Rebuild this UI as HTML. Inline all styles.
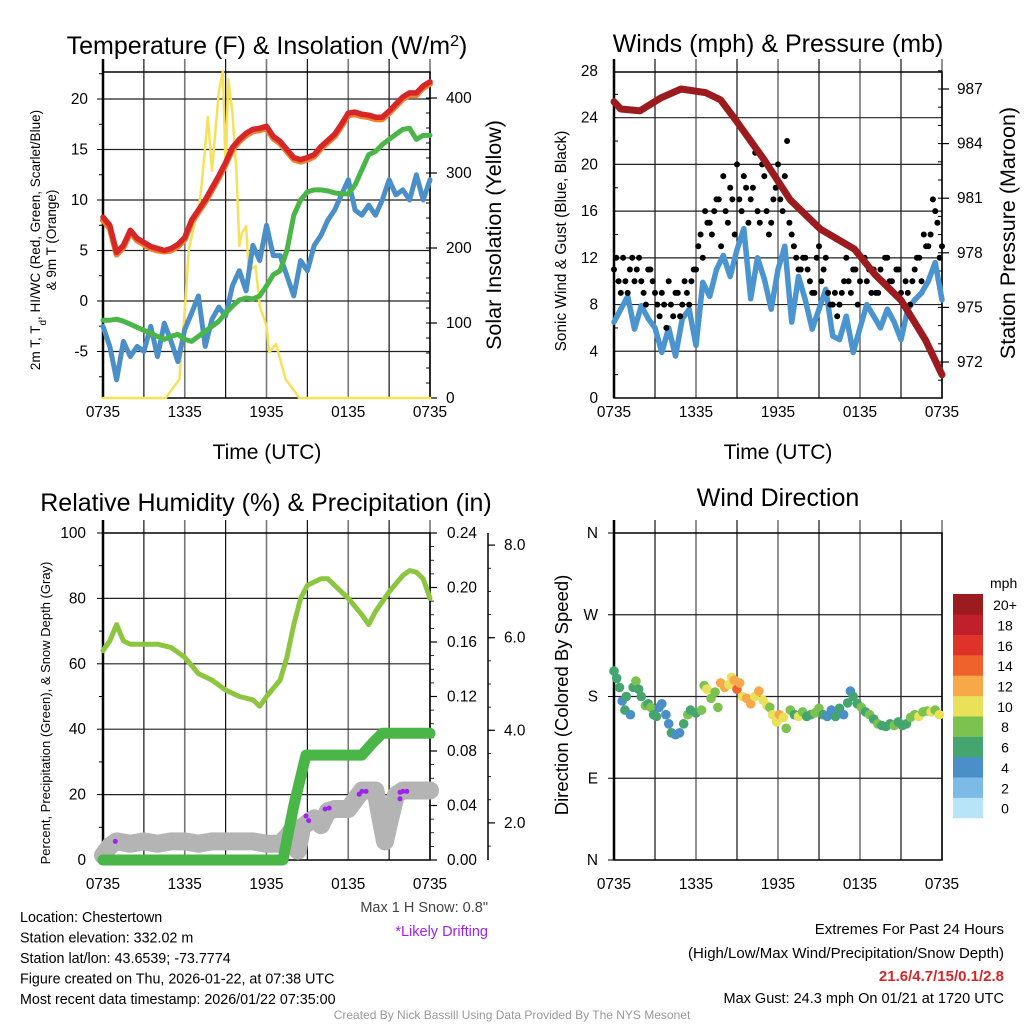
<!DOCTYPE html>
<html><head><meta charset="utf-8"><style>
body{margin:0;background:#fff}
svg{display:block;font-family:"Liberation Sans",sans-serif}
</style></head><body>
<svg id="c" width="1024" height="1024" viewBox="0 0 1024 1024" xmlns="http://www.w3.org/2000/svg"></svg>
<script>
// ---------- DATA ----------
const hours = [0,0.5,1,1.5,2,2.5,3,3.5,4,4.5,5,5.5,6,6.5,7,7.5,8,8.5,9,9.5,10,10.5,11,11.5,12,12.5,13,13.5,14,14.5,15,15.5,16,16.5,17,17.5,18,18.5,19,19.5,20,20.5,21,21.5,22,22.5,23,23.5,24];
const xTickLabels = ["0735","1335","1935","0135","0735"];
const tempRed = [8.3,7.5,4.8,5.5,7,6.2,5.8,5.4,5.2,5.0,5.2,5.6,6.3,8.0,9.0,10.0,11.2,12.4,13.7,15.2,16.0,16.6,17.0,17.1,17.3,16.3,15.8,15.0,14.2,14.0,14.2,14.5,15.3,15.9,16.5,17.5,18.6,18.7,18.5,18.4,18.2,18.2,18.8,19.5,20.2,20.6,20.6,21.3,21.7];
const temp9m = [8.0,7.2,4.6,5.3,6.8,6.0,5.6,5.2,5.0,4.9,5.0,5.4,6.1,7.8,8.8,9.8,11.0,12.2,13.5,15.0,15.8,16.4,16.8,16.9,17.1,16.1,15.6,14.8,14.0,13.8,14.0,14.3,15.1,15.7,16.3,17.3,18.4,18.5,18.3,18.2,18.0,18.0,18.6,19.3,20.0,20.4,20.4,21.1,21.5];
const dewGreen = [-1.9,-1.9,-1.8,-2.0,-2.3,-2.6,-2.9,-3.2,-3.5,-3.8,-3.5,-3.3,-3.8,-4.0,-3.5,-3.0,-2.5,-2.0,-1.2,-0.5,0.1,0.3,0.2,0.5,1.5,2.6,3.0,5.0,8.5,10.0,10.8,11.0,11.0,10.9,10.7,10.6,10.6,11.5,13.0,14.5,14.8,15.5,16.0,16.5,17.0,17.1,16.0,16.4,16.4];
const chillBlue = [-2.5,-4.5,-7.8,-4.0,-5.5,-4.5,-5.0,-2.5,-5.5,-2.2,-4.0,-6.0,-2.8,-1.2,0.5,-4.5,-1.8,-0.6,-1.5,1.5,3.0,1.0,5.5,4.0,7.5,4.5,4.5,2.5,0.5,4.0,3.0,5.5,6.5,8.0,9.0,10.5,12.0,9.0,8.5,9.5,8.5,10.0,12.0,10.5,11.0,10.0,12.5,10.0,12.0];
const solarHours = [0,4.6,5.6,6.1,6.3,7.1,7.3,7.7,8.0,8.5,8.8,9.0,9.2,9.5,9.8,10.0,10.2,10.5,10.7,11.2,11.5,12.0,12.2,12.7,13.4,14.1,14.4,24];
const solarVals = [0,0,25,141,199,261,296,375,303,408,436,305,425,381,300,203,220,229,170,176,123,96,61,72,25,8,0,0];
const tempTicks = [-5,0,5,10,15,20];
const solarTicks = [0,100,200,300,400];

const windBlue = [6.5,7.6,8.7,5.9,7.9,6.8,6.0,3.9,6.0,3.6,6.8,7.6,4.5,9.9,8.7,11,12.2,10.4,12.7,14.5,8.5,12,10.2,7.6,11,13,6.5,10.4,8.4,5.9,7.6,9.3,5.3,5.0,7.0,3.9,6.0,8.0,7.0,6.0,7.6,6.5,5.0,7.6,8.4,9.0,10,11.6,8.4];
const gustVals = [11,10,12,9,12,11,10,8,11,9,7,8,10,7,9,8,9,10,11,14,16,15,16,17,19,15,17,20,16,18,17,21,15,19,14,17,20,16,22,14,12,11,12,10,9,13,11,9,8,7,9,12,9,11,10,12,11,11,9,10,12,10,11,9,10,8,11,12,14,13,17,15,13];
const gustVals2 = [12,9,10,11,10,12,9,11,10,8,9,6,8,9,7,10,8,11,13,12,15,14,17,13,16,18,14,17,19,15,18,16,20,16,15,18,17,19,15,13,11,12,11,9,12,10,12,8,9,8,10,10,11,8,12,10,9,9,11,12,10,9,11,8,9,10,12,10,13,14,16,12];
const presHours = [0,0.5,1.9,3.4,4.9,6.7,7.8,8.9,11,12.9,15.1,17.6,19.1,21,22.8,24];
const presVals = [986.3,985.9,985.8,986.5,987.0,986.8,986.4,985.3,983.1,980.9,979.3,978.2,976.8,975.4,973.2,971.3];
const windTicks = [0,4,8,12,16,20,24,28];
const presTicks = [972,975,978,981,984,987];

const rhHours = [0,0.5,1,1.5,2,3,4,5,6,7,8,9,10,11,11.5,12,13,13.5,14,14.5,15,16,16.5,17,18,19,19.5,20,21,22,22.5,23,23.5,24];
const rhVals = [64,67,72,67,66,66,66,65,62,57,55,52,50,49,47,50,55,62,72,80,84,86,86,84,80,75,72,76,82,87,88.5,88,86,80];
const precipHours = [0,13.2,14.0,14.9,19.0,19.8,20.5,24];
const precipVals = [0,0,0.04,0.077,0.077,0.086,0.093,0.093];
const snowHours = [0,0.5,1,2,3,4,5,6,7,8,9,10,11,12,13,13.5,14,14.3,14.6,15,15.5,16,16.5,17,18,18.5,19,19.5,20,20.3,20.7,21,21.5,22,23,24];
const snowVals = [1.3,1.5,1.6,1.55,1.6,1.55,1.6,1.6,1.55,1.6,1.6,1.6,1.6,1.55,1.55,1.7,1.9,1.4,1.9,2.0,2.1,1.95,2.25,2.3,2.3,2.5,2.7,2.7,2.7,2.2,1.6,2.0,2.6,2.7,2.7,2.7];
const driftHours = [0.9,14.9,15.1,16.3,16.6,18.8,19.0,19.3,21.8,22.0,22.3,21.8];
const driftVals = [1.6,2.15,2.05,2.3,2.32,2.62,2.68,2.68,2.66,2.68,2.68,2.52];
const rhTicks = [0,20,40,60,80,100];
const precipTicks = [0,0.04,0.08,0.12,0.16,0.20,0.24];
const snowTicks = [2,4,6,8];

const dirHours = [0.0,0.2,0.4,0.6,0.8,0.9,1.2,1.4,1.6,1.8,2.0,2.3,2.5,2.7,2.9,3.1,3.3,3.5,3.8,4.0,4.2,4.5,4.8,5.1,5.4,5.6,6.0,6.4,6.6,6.8,7.1,7.4,7.6,7.8,8.1,8.4,8.6,8.8,9.0,9.2,9.4,9.7,10.0,10.3,10.6,10.9,11.2,11.4,11.6,11.9,12.1,12.4,12.6,12.9,13.2,13.5,13.8,14.1,14.4,14.7,15.0,15.3,15.6,15.9,16.2,16.5,16.8,17.1,17.3,17.5,17.8,18.1,18.4,18.7,19.0,19.3,19.6,19.9,20.2,20.5,20.8,21.1,21.4,21.7,22.0,22.3,22.6,22.9,23.2,23.5,23.8];
const dirDeg = [208,200,190,175,165,180,160,190,197,188,180,170,172,168,160,158,168,172,160,150,140,138,140,150,160,165,162,165,192,188,178,185,168,195,190,193,201,198,188,195,180,178,172,180,186,176,170,168,160,152,160,157,145,165,160,158,163,158,160,162,167,160,158,165,158,167,160,173,186,180,172,168,163,160,155,150,148,147,150,148,152,148,150,157,160,158,163,164,163,165,160];
const dirSpd = [6,6,6,4,6,6,4,6,8,6,6,8,6,8,6,6,4,4,4,4,6,4,4,6,8,6,6,8,8,10,8,8,8,12,12,10,10,12,14,12,10,12,12,10,12,10,10,8,10,10,12,10,8,8,6,10,8,6,6,8,8,6,4,4,6,6,4,6,4,6,6,8,6,8,6,8,6,6,6,8,6,6,6,8,8,10,8,8,10,8,10];
const dirLabels = ["N","E","S","W","N"];
const speedBins = ["0","2","4","6","8","10","12","14","16","18","20+"];
const speedColors = ["#b7e4f7","#7bbbe5","#4a8fc7","#44a56f","#7cc24f","#e9e15a","#f7a94a","#f0622b","#df3329","#c0202a","#9b1b1f"];

// ---------- HELPERS ----------
const NS="http://www.w3.org/2000/svg";
const svg=document.getElementById('c');
function mk(tag,attrs,parent,txt){const e=document.createElementNS(NS,tag);for(const k in attrs)e.setAttribute(k,attrs[k]);if(txt!==undefined)e.textContent=txt;(parent||svg).appendChild(e);return e;}
function grp(name){const g=mk('g',{});return g;}
function ln(g,x1,y1,x2,y2,s,w){return mk('line',{x1,y1,x2,y2,stroke:s,'stroke-width':w},g);}
function tx(g,x,y,t,o){const a=Object.assign({x,y,'font-size':15.4,fill:'#000'},o||{});return mk('text',a,g,t);}
function poly(g,xs,ys,fx,fy,color,w,name){const d=xs.map((t,i)=>(i?'L':'M')+fx(t).toFixed(1)+' '+fy(ys[i]).toFixed(1)).join(' ');const p=mk('path',{d,fill:'none',stroke:color,'stroke-width':w,'stroke-linejoin':'round','stroke-linecap':'round'},g);return p;}

function frame(g,X0,X1,Y0,Y1,hLines,topExt){
  for(let h=0;h<=24;h+=3){const x=X0+h*(X1-X0)/24;const gray=(h%6===0);ln(g,x,Y0-topExt,x,Y1,gray?'#777':'#111',gray?1.6:1.2);}
  hLines.forEach((y,i)=>ln(g,X0,y,X1,y,'#222',1.2));
  mk('rect',{x:X0,y:Y0,width:X1-X0,height:Y1-Y0,fill:'none',stroke:'#000','stroke-width':1.5},g);
  ln(g,X0,Y0-topExt,X0,Y1,'#000',2.5);
}

// ================= PANEL 1 =================
{
const X0=103,X1=430,Y0=72,Y1=398;
const fx=t=>X0+t*(X1-X0)/24, fy=v=>301-v*10.1, fr=v=>398-v*0.75;
const g=grp('temperature-panel');
frame(g,X0,X1,Y0,Y1,tempTicks.map(fy),13);
tempTicks.forEach(v=>{const t=tx(g,88,fy(v)+5,String(v),{'text-anchor':'end'});});
for(let v=-7.5;v<=22.5;v+=2.5){ln(g,X0-(v%5===0?6:4),fy(v),X0,fy(v),'#000',1);}
solarTicks.forEach(v=>{const t=tx(g,446,fr(v)+5,String(v),{});ln(g,X1,fr(v),X1+7,fr(v),'#000',1.2);});
for(let v=20;v<430;v+=20){ln(g,X1-4,fr(v),X1,fr(v),'#000',1);}
xTickLabels.forEach((l,i)=>{const t=tx(g,fx(i*6),417,l,{'text-anchor':'middle'});});
const ti=tx(g,267,54,'',{'text-anchor':'middle','font-size':25});ti.innerHTML='Temperature (F) &amp; Insolation (W/m<tspan baseline-shift="super" font-size="16">2</tspan>)';
const xt=tx(g,267,459,'Time (UTC)',{'text-anchor':'middle','font-size':21});
const yt=tx(g,0,0,'2m T, T',{'font-size':13.5,'text-anchor':'middle',transform:'translate(40,240) rotate(-90)'});yt.innerHTML='2m T, T<tspan baseline-shift="sub" font-size="10">d</tspan>, HI/WC (Red, Green, Scarlet/Blue)';
const yt2=tx(g,0,0,'& 9m T (Orange)',{'font-size':13.5,'text-anchor':'middle',transform:'translate(56,240) rotate(-90)'});
const rt=tx(g,0,0,'Solar Insolation (Yellow)',{'font-size':21.5,'text-anchor':'middle',transform:'translate(501,235) rotate(-90)'});
poly(g,solarHours,solarVals,fx,fr,'#f7e15a',2.5,'solar-insolation-line');
poly(g,hours,chillBlue,fx,fy,'#4a8fc7',5,'wind-chill-line');
poly(g,hours,dewGreen,fx,fy,'#4bb648',5,'dewpoint-line');
poly(g,hours,temp9m,fx,fy,'#f07f2e',6,'temp-9m-line');
poly(g,hours,tempRed,fx,fy,'#d62728',5.5,'temp-2m-line');
}

// ================= PANEL 2 =================
{
const X0=614,X1=942,Y0=72,Y1=398;
const fx=t=>X0+t*(X1-X0)/24, fy=v=>398-v*11.68, fp=p=>89+(987-p)*18.2;
const g=grp('winds-panel');
frame(g,X0,X1,Y0,Y1,windTicks.slice(1,7).map(fy),13);
windTicks.forEach(v=>{const t=tx(g,598,fy(v)+5,String(v),{'text-anchor':'end'});});
for(let v=2;v<28;v+=2){ln(g,X0,fy(v),X0+(v%4===0?0:4),fy(v),'#000',1);}
presTicks.forEach(v=>{const t=tx(g,957,fp(v)+5,String(v),{});ln(g,X1,fp(v),X1+7,fp(v),'#000',1.2);});
for(let v=971;v<=988;v+=1){ln(g,X1-4,fp(v),X1,fp(v),'#000',1);}
xTickLabels.forEach((l,i)=>{const t=tx(g,fx(i*6),417,l,{'text-anchor':'middle'});});
const ti=tx(g,778,52,'Winds (mph) & Pressure (mb)',{'text-anchor':'middle','font-size':25});
const xt=tx(g,778,459,'Time (UTC)',{'text-anchor':'middle','font-size':21});
const yt=tx(g,0,0,'Sonic Wind & Gust (Blue, Black)',{'font-size':15.4,'text-anchor':'middle',transform:'translate(566,241) rotate(-90)'});
const rt=tx(g,0,0,'Station Pressure (Maroon)',{'font-size':21.5,'text-anchor':'middle',transform:'translate(1015,233) rotate(-90)'});
poly(g,hours,windBlue,fx,fy,'#4a94d0',5.5,'sonic-wind-line');
gustVals.forEach((v,i)=>{const c=mk('circle',{cx:fx(i/3).toFixed(1),cy:fy(v).toFixed(1),r:3,fill:'#000'},g);

});
gustVals2.forEach((v,i)=>{const c=mk('circle',{cx:fx(i/3+1/6).toFixed(1),cy:fy(v).toFixed(1),r:3,fill:'#000'},g);

});
poly(g,presHours,presVals,fx,fp,'#9b1b1f',7,'pressure-line');
}

// ================= PANEL 3 =================
{
const X0=103,X1=430,Y0=533,Y1=860;
const fx=t=>X0+t*(X1-X0)/24, fy=v=>860-v*3.27, fp=p=>860-p*1362.5, fs=s=>915.5-s*46.3;
const g=grp('humidity-panel');
frame(g,X0,X1,Y0,Y1,rhTicks.slice(1,5).map(fy),13);
rhTicks.forEach(v=>{const t=tx(g,86,fy(v)+5,String(v),{'text-anchor':'end'});ln(g,X0-6,fy(v),X0,fy(v),'#000',1);});
for(let v=10;v<100;v+=20){ln(g,X0-4,fy(v),X0,fy(v),'#000',1);}
precipTicks.forEach(v=>{const t=tx(g,447,fp(v)+5,v.toFixed(2),{});ln(g,X1,fp(v),X1+7,fp(v),'#000',1.2);});
for(let v=0.01;v<0.24;v+=0.01){ln(g,X1,fp(v),X1+4,fp(v),'#000',0.8);}
ln(g,488,533,488,860,'#000',1.5);
snowTicks.forEach(v=>{const t=tx(g,504,fs(v)+5,v.toFixed(1),{});ln(g,488,fs(v),495,fs(v),'#000',1.2);});
for(let v=1.5;v<8.3;v+=0.5){ln(g,488,fs(v),491,fs(v),'#000',0.8);}
xTickLabels.forEach((l,i)=>{const t=tx(g,fx(i*6),889,l,{'text-anchor':'middle'});});
const ti=tx(g,266,511,'Relative Humidity (%) & Precipitation (in)',{'text-anchor':'middle','font-size':25});
const yt=tx(g,0,0,'Percent, Precipitation (Green), & Snow Depth (Gray)',{'font-size':13,'text-anchor':'middle',transform:'translate(50,713) rotate(-90)'});
poly(g,snowHours,snowVals,fx,fs,'#b4b4b4',18,'snow-depth-line');
driftHours.forEach((h,i)=>{const c=mk('circle',{cx:fx(h).toFixed(1),cy:fs(driftVals[i]).toFixed(1),r:2.5,fill:'#a020f0'},g);

});
poly(g,precipHours,precipVals,fx,fp,'#4bb648',11,'precipitation-line');
poly(g,rhHours,rhVals,fx,fy,'#8cc63f',5,'relative-humidity-line');
const s1=tx(g,488,912,'Max 1 H Snow: 0.8"',{'text-anchor':'end','font-size':14.5,fill:'#444'});
const s2=tx(g,488,936,'*Likely Drifting',{'text-anchor':'end','font-size':14.5,fill:'#a020f0'});
}

// ================= PANEL 4 =================
{
const X0=614,X1=942,Y0=533,Y1=860;
const fx=t=>X0+t*(X1-X0)/24, fd=d=>860-d*0.9083;
const g=grp('wind-direction-panel');
frame(g,X0,X1,Y0,Y1,[90,180,270].map(fd),13);
dirLabels.forEach((l,i)=>{const t=tx(g,598,fd(i*90)+5,l,{'text-anchor':'end'});ln(g,X0-6,fd(i*90),X0,fd(i*90),'#000',1);});
xTickLabels.forEach((l,i)=>{const t=tx(g,fx(i*6),889,l,{'text-anchor':'middle'});});
const ti=tx(g,778,506,'Wind Direction',{'text-anchor':'middle','font-size':25});
const yt=tx(g,0,0,'Direction (Colored By Speed)',{'font-size':18.5,'text-anchor':'middle',transform:'translate(568,695) rotate(-90)'});
dirHours.forEach((h,i)=>{const c=mk('circle',{cx:fx(h).toFixed(1),cy:fd(dirDeg[i]).toFixed(1),r:4.8,fill:speedColors[Math.min(10,Math.round(dirSpd[i]/2))]},g);

});
const cb=grp('speed-colorbar');
const u=tx(cb,990,588,'mph',{'font-size':14});
speedBins.forEach((l,i)=>{const y=818-(i+1)*20.36;const r=mk('rect',{x:953,y:y.toFixed(1),width:30,height:20.6,fill:speedColors[i]},cb);


const t=tx(cb,1005,y+16,l,{'text-anchor':'middle','font-size':14});});
}

// ================= FOOTER =================
{
const g=grp('footer');
["Location: Chestertown","Station elevation: 332.02 m","Station lat/lon: 43.6539; -73.7774","Figure created on Thu, 2026-01-22, at 07:38 UTC","Most recent data timestamp: 2026/01/22 07:35:00"].forEach((s,i)=>{const t=tx(g,20,922+i*20.5,s,{'font-size':14.3});});
const e1=tx(g,1004,934,'Extremes For Past 24 Hours',{'text-anchor':'end','font-size':15});
const e2=tx(g,1004,958,'(High/Low/Max Wind/Precipitation/Snow Depth)',{'text-anchor':'end','font-size':15});
const e3=tx(g,1004,981,'21.6/4.7/15/0.1/2.8',{'text-anchor':'end','font-size':15,'font-weight':'bold',fill:'#d62728'});
const e4=tx(g,1004,1003,'Max Gust: 24.3 mph On 01/21 at 1720 UTC',{'text-anchor':'end','font-size':14.5});
const cr=tx(g,512,1019,'Created By Nick Bassill Using Data Provided By The NYS Mesonet',{'text-anchor':'middle','font-size':12,fill:'#999'});
}
</script>
</body></html>
